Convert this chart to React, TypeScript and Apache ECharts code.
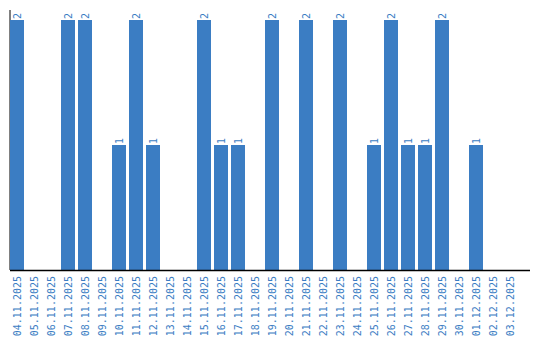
import React, { useEffect, useRef } from "react";
import * as echarts from "echarts";

const categories = [
  "04.11.2025", "05.11.2025", "06.11.2025", "07.11.2025", "08.11.2025",
  "09.11.2025", "10.11.2025", "11.11.2025", "12.11.2025", "13.11.2025",
  "14.11.2025", "15.11.2025", "16.11.2025", "17.11.2025", "18.11.2025",
  "19.11.2025", "20.11.2025", "21.11.2025", "22.11.2025", "23.11.2025",
  "24.11.2025", "25.11.2025", "26.11.2025", "27.11.2025", "28.11.2025",
  "29.11.2025", "30.11.2025", "01.12.2025", "02.12.2025", "03.12.2025",
];

const values = [
  2, 0, 0, 2, 2, 0, 1, 2, 1, 0,
  0, 2, 1, 1, 0, 2, 0, 2, 0, 2,
  0, 1, 2, 1, 1, 2, 0, 1, 0, 0,
];

const BLUE = "#3b7dc3";
const FONT = "DejaVu Sans Mono";

export default function App() {
  const ref = useRef<HTMLDivElement>(null);

  useEffect(() => {
    if (!ref.current) return;
    const chart = echarts.init(ref.current, undefined, { renderer: "svg" });
    chart.setOption({
      animation: false,
      grid: { left: 8.5, width: 510, top: 20, bottom: 70 },
      xAxis: {
        type: "category",
        data: categories,
        axisLine: { show: false },
        axisTick: { show: false },
        axisLabel: {
          rotate: 90,
          interval: 0,
          color: BLUE,
          fontFamily: FONT,
          fontSize: 10,
          margin: 6,
        },
      },
      yAxis: {
        type: "value",
        min: 0,
        max: 2,
        show: false,
        splitLine: { show: false },
      },
      graphic: [
        {
          type: "line",
          z: -1,
          shape: { x1: 10, y1: 10, x2: 10, y2: 270 },
          style: { stroke: "#000", lineWidth: 1 },
        },
        {
          type: "line",
          z: 10,
          shape: { x1: 10, y1: 270.5, x2: 530, y2: 270.5 },
          style: { stroke: "#000", lineWidth: 1.5 },
        },
      ],
      series: [
        {
          type: "bar",
          data: values,
          barWidth: 14,
          itemStyle: { color: BLUE },
          label: {
            show: true,
            position: "top",
            rotate: 90,
            align: "left",
            verticalAlign: "middle",
            distance: 1,
            color: BLUE,
            fontFamily: FONT,
            fontSize: 10,
            formatter: (p: any) => (p.value ? String(p.value) : ""),
          },
        },
      ],
    });
    return () => chart.dispose();
  }, []);

  return (
    <div
      ref={ref}
      style={{ position: "absolute", left: 0, top: 0, width: 540, height: 340 }}
    />
  );
}
